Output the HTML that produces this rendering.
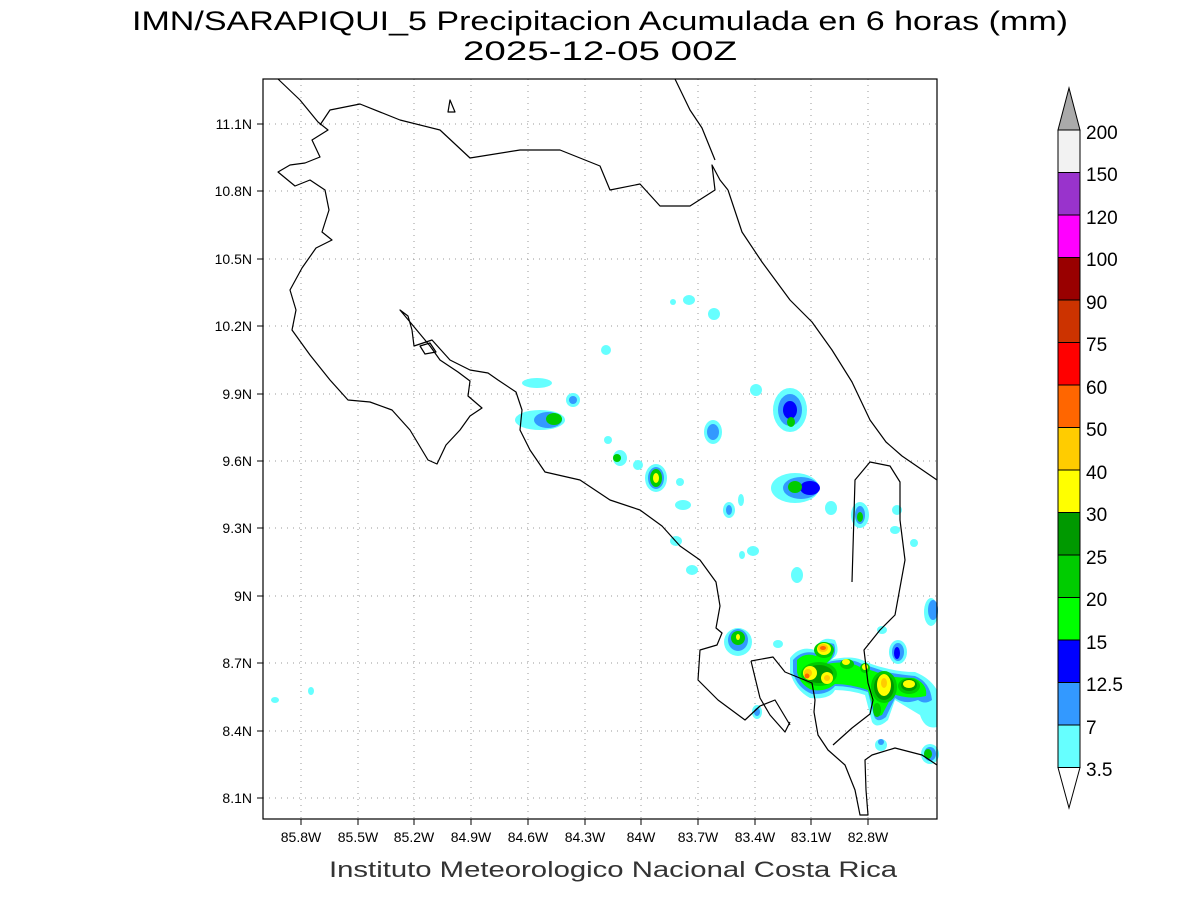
<!DOCTYPE html>
<html><head><meta charset="utf-8"><style>
html,body{margin:0;padding:0;background:#fff;}
svg{display:block;font-family:"Liberation Sans",sans-serif;}
</style></head><body>
<svg width="1200" height="900" viewBox="0 0 1200 900" xmlns="http://www.w3.org/2000/svg">
<rect width="1200" height="900" fill="#fff"/>
<text x="600" y="30" font-size="27" text-anchor="middle" fill="#000" textLength="936" lengthAdjust="spacingAndGlyphs">IMN/SARAPIQUI_5 Precipitacion Acumulada en 6 horas (mm)</text>
<text x="600" y="60" font-size="27" text-anchor="middle" fill="#000" textLength="274" lengthAdjust="spacingAndGlyphs">2025-12-05 00Z</text>
<g stroke="#999" stroke-width="1" stroke-dasharray="1,5">
<line x1="301" y1="79" x2="301" y2="819"/><line x1="358" y1="79" x2="358" y2="819"/><line x1="414" y1="79" x2="414" y2="819"/><line x1="471" y1="79" x2="471" y2="819"/><line x1="528" y1="79" x2="528" y2="819"/><line x1="585" y1="79" x2="585" y2="819"/><line x1="641" y1="79" x2="641" y2="819"/><line x1="698" y1="79" x2="698" y2="819"/><line x1="755" y1="79" x2="755" y2="819"/><line x1="811" y1="79" x2="811" y2="819"/><line x1="868" y1="79" x2="868" y2="819"/>
<line x1="263" y1="124" x2="937" y2="124"/><line x1="263" y1="191" x2="937" y2="191"/><line x1="263" y1="259" x2="937" y2="259"/><line x1="263" y1="326" x2="937" y2="326"/><line x1="263" y1="394" x2="937" y2="394"/><line x1="263" y1="461" x2="937" y2="461"/><line x1="263" y1="528" x2="937" y2="528"/><line x1="263" y1="596" x2="937" y2="596"/><line x1="263" y1="663" x2="937" y2="663"/><line x1="263" y1="731" x2="937" y2="731"/><line x1="263" y1="798" x2="937" y2="798"/>
</g>
<g>
<g fill="#66ffff">
<ellipse cx="540" cy="420" rx="25" ry="10"/><ellipse cx="537" cy="383" rx="15" ry="5"/><ellipse cx="573" cy="400" rx="7" ry="7"/><ellipse cx="620" cy="458" rx="7" ry="8"/><ellipse cx="638" cy="465" rx="5" ry="5"/><ellipse cx="656" cy="478" rx="11" ry="14"/><ellipse cx="608" cy="440" rx="4" ry="4"/><ellipse cx="680" cy="482" rx="4" ry="4"/><ellipse cx="683" cy="505" rx="8" ry="5"/><ellipse cx="676" cy="541" rx="6" ry="5"/><ellipse cx="692" cy="570" rx="6" ry="5"/><ellipse cx="713" cy="432" rx="9" ry="12"/><ellipse cx="729" cy="510" rx="6" ry="8"/><ellipse cx="741" cy="500" rx="3" ry="6"/><ellipse cx="753" cy="551" rx="6" ry="5"/><ellipse cx="742" cy="555" rx="3" ry="4"/><ellipse cx="756" cy="390" rx="6" ry="6"/><ellipse cx="790" cy="410" rx="17" ry="22"/><ellipse cx="795" cy="488" rx="24" ry="15"/><ellipse cx="831" cy="508" rx="6" ry="7"/><ellipse cx="860" cy="515" rx="9" ry="13"/><ellipse cx="897" cy="510" rx="5" ry="5"/><ellipse cx="895" cy="530" rx="5" ry="4"/><ellipse cx="914" cy="543" rx="4" ry="4"/><ellipse cx="797" cy="575" rx="6" ry="8"/><ellipse cx="689" cy="300" rx="6" ry="5"/><ellipse cx="714" cy="314" rx="6" ry="6"/><ellipse cx="606" cy="350" rx="5" ry="5"/><ellipse cx="673" cy="302" rx="3" ry="3"/><ellipse cx="738" cy="642" rx="14" ry="14"/><ellipse cx="757" cy="712" rx="5" ry="7"/><ellipse cx="778" cy="644" rx="5" ry="4"/><ellipse cx="931" cy="612" rx="7" ry="14"/><ellipse cx="881" cy="745" rx="6" ry="6"/><ellipse cx="930" cy="754" rx="9" ry="10"/><ellipse cx="882" cy="630" rx="5" ry="4"/><ellipse cx="311" cy="691" rx="3" ry="4"/><ellipse cx="275" cy="700" rx="4" ry="3"/><ellipse cx="898" cy="652" rx="9" ry="12"/>
<path d="M790 658 Q800 645 815 650 Q820 635 835 640 Q842 655 830 660 Q850 655 862 660 Q872 665 885 668 Q900 672 915 672 Q930 678 937 690 L937 727 Q925 730 920 715 Q905 706 895 700 L888 720 Q877 730 872 722 L865 695 Q850 690 835 690 Q830 700 810 698 Q795 690 790 672 Z"/>
</g>
<g fill="#3399ff">
<ellipse cx="548" cy="420" rx="14" ry="8"/><ellipse cx="573" cy="400" rx="4" ry="4"/><ellipse cx="656" cy="478" rx="8" ry="11"/><ellipse cx="713" cy="432" rx="6" ry="8"/><ellipse cx="790" cy="410" rx="12" ry="16"/><ellipse cx="801" cy="488" rx="18" ry="11"/><ellipse cx="860" cy="515" rx="5" ry="9"/><ellipse cx="738" cy="640" rx="10" ry="11"/><ellipse cx="930" cy="754" rx="6" ry="7"/><ellipse cx="933" cy="610" rx="5" ry="10"/><ellipse cx="729" cy="510" rx="3" ry="5"/><ellipse cx="757" cy="712" rx="3" ry="4"/><ellipse cx="881" cy="742" rx="3" ry="3"/><ellipse cx="898" cy="652" rx="6" ry="9"/>
<path d="M793 660 Q802 650 815 653 Q822 640 834 644 Q838 655 828 662 Q850 657 862 664 Q875 668 886 672 Q902 675 915 676 Q930 682 932 700 Q925 705 918 700 Q905 705 895 698 L886 717 Q877 724 874 716 L868 692 Q850 686 835 686 Q828 695 812 694 Q797 688 793 672 Z"/>
</g>
<g fill="#0000ff"><ellipse cx="790" cy="410" rx="7" ry="9"/><ellipse cx="810" cy="488" rx="10" ry="7"/><ellipse cx="897" cy="653" rx="3" ry="6"/></g>
<g fill="#00ff00">
<path d="M797 660 Q805 652 816 656 Q823 644 833 647 Q835 656 826 664 Q848 660 860 667 Q875 671 886 676 Q900 678 914 678 Q928 684 926 696 Q910 700 893 694 L882 715 Q876 718 874 710 L868 690 Q850 684 835 684 Q826 692 812 690 Q800 685 797 672 Z"/>
</g>
<g fill="#00cc00">
<ellipse cx="554" cy="419" rx="8" ry="6"/><ellipse cx="656" cy="478" rx="6" ry="9"/><ellipse cx="617" cy="458" rx="4" ry="4"/><ellipse cx="738" cy="638" rx="7" ry="7"/><ellipse cx="795" cy="487" rx="7" ry="6"/><ellipse cx="860" cy="517" rx="3" ry="5"/><ellipse cx="928" cy="754" rx="4" ry="5"/><ellipse cx="791" cy="422" rx="4" ry="5"/>
<ellipse cx="819" cy="674" rx="18" ry="12"/><ellipse cx="824" cy="650" rx="10" ry="8"/><ellipse cx="884" cy="687" rx="13" ry="16"/><ellipse cx="909" cy="686" rx="11" ry="8"/><ellipse cx="847" cy="664" rx="7" ry="5"/><ellipse cx="865" cy="668" rx="5" ry="5"/><ellipse cx="877" cy="710" rx="4" ry="7"/>
</g>
<g fill="#009900"><ellipse cx="819" cy="674" rx="14" ry="9"/><ellipse cx="884" cy="687" rx="10" ry="13"/><ellipse cx="909" cy="685" rx="8" ry="6"/></g>
<g fill="#ffff00"><ellipse cx="656" cy="478" rx="3" ry="5"/><ellipse cx="824" cy="649" rx="7" ry="6"/><ellipse cx="810" cy="673" rx="7" ry="7"/><ellipse cx="827" cy="678" rx="6" ry="6"/><ellipse cx="884" cy="685" rx="7" ry="11"/><ellipse cx="909" cy="684" rx="6" ry="4"/><ellipse cx="865" cy="667" rx="3" ry="3"/><ellipse cx="846" cy="662" rx="4" ry="3"/><ellipse cx="738" cy="637" rx="2" ry="3"/></g>
<g fill="#ffcc00"><ellipse cx="823" cy="648" rx="5" ry="4"/><ellipse cx="808" cy="673" rx="4" ry="4"/><ellipse cx="827" cy="678" rx="3" ry="3"/><ellipse cx="884" cy="683" rx="3" ry="5"/></g>
<g fill="#ff6600"><ellipse cx="823" cy="648" rx="3" ry="2"/><ellipse cx="807" cy="676" rx="2.5" ry="2.5"/></g>
</g>
<g fill="none" stroke="#000" stroke-width="1.2" stroke-linejoin="round">
<path d="M278 79 L300 100 L318 122 L328 130 L312 140 L320 157 L305 163 L290 165 L278 172 L295 186 L310 180 L325 190 L329 210 L322 232 L332 240 L316 248 L302 268 L290 290 L296 310 L292 330 L310 355 L330 380 L348 400 L370 402 L392 410 L410 430 L428 460 L437 464 L446 445 L460 430 L470 416 L482 408 L468 396 L470 381 L458 372 L440 360 L430 346 L420 334 L410 322 L400 310 L408 316 L412 330 L414 346 L432 340 L450 360 L470 370 L488 373 L498 380 L516 392 L522 410 L520 430 L530 450 L545 472 L580 480 L610 500 L640 510 L662 526 L680 546 L700 560 L716 582 L720 606 L716 628 L722 633 L717 645 L700 650 L698 680 L718 700 L745 720 L760 706 L775 700 L790 725"/>
<path d="M751 661 L773 657 L785 672 L812 683 L815 700 L814 712 L818 735 L828 750 L845 765 L855 790 L860 815 L868 815 L866 790 L865 760 L872 755 L895 748 L922 755 L937 765"/>
<path d="M751 661 L760 698 L770 715 L785 732 L790 722"/>
<path d="M833 745 L852 728 L870 714 L873 700 L868 683 L864 650 L880 630 L895 615 L905 560 L900 520 L900 482 L890 466 L870 462 L855 480 L852 582"/>
<path d="M320 125 L330 110 L360 104 L400 120 L440 130 L470 158 L520 150 L560 150 L600 166 L610 190 L640 184 L660 206 L690 206 L715 190 L712 165 L720 180 L728 190"/>
<path d="M675 79 L690 110 L702 128 L715 160"/>
<path d="M728 190 L742 232 L762 262 L790 300 L812 322 L832 350 L852 382 L870 420 L886 442 L902 456 L937 480"/>
<path d="M450 100 L455 112 L448 112 Z"/>
<path d="M420 346 L430 343 L436 352 L425 354 Z"/>
</g>
<rect x="263" y="79" width="674" height="740" fill="none" stroke="#000" stroke-width="1.2"/>
<g stroke="#000" stroke-width="1">
<line x1="301" y1="819" x2="301" y2="825"/><line x1="358" y1="819" x2="358" y2="825"/><line x1="414" y1="819" x2="414" y2="825"/><line x1="471" y1="819" x2="471" y2="825"/><line x1="528" y1="819" x2="528" y2="825"/><line x1="585" y1="819" x2="585" y2="825"/><line x1="641" y1="819" x2="641" y2="825"/><line x1="698" y1="819" x2="698" y2="825"/><line x1="755" y1="819" x2="755" y2="825"/><line x1="811" y1="819" x2="811" y2="825"/><line x1="868" y1="819" x2="868" y2="825"/>
<line x1="257" y1="124" x2="263" y2="124"/><line x1="257" y1="191" x2="263" y2="191"/><line x1="257" y1="259" x2="263" y2="259"/><line x1="257" y1="326" x2="263" y2="326"/><line x1="257" y1="394" x2="263" y2="394"/><line x1="257" y1="461" x2="263" y2="461"/><line x1="257" y1="528" x2="263" y2="528"/><line x1="257" y1="596" x2="263" y2="596"/><line x1="257" y1="663" x2="263" y2="663"/><line x1="257" y1="731" x2="263" y2="731"/><line x1="257" y1="798" x2="263" y2="798"/>
</g>
<g font-size="14" fill="#000" text-anchor="middle">
<text x="301" y="842">85.8W</text><text x="358" y="842">85.5W</text><text x="414" y="842">85.2W</text><text x="471" y="842">84.9W</text><text x="528" y="842">84.6W</text><text x="585" y="842">84.3W</text><text x="641" y="842">84W</text><text x="698" y="842">83.7W</text><text x="755" y="842">83.4W</text><text x="811" y="842">83.1W</text><text x="868" y="842">82.8W</text>
</g>
<g font-size="14" fill="#000" text-anchor="end">
<text x="252" y="129">11.1N</text><text x="252" y="196">10.8N</text><text x="252" y="264">10.5N</text><text x="252" y="331">10.2N</text><text x="252" y="399">9.9N</text><text x="252" y="466">9.6N</text><text x="252" y="533">9.3N</text><text x="252" y="601">9N</text><text x="252" y="668">8.7N</text><text x="252" y="736">8.4N</text><text x="252" y="803">8.1N</text>
</g>
<text x="613" y="877" font-size="22" text-anchor="middle" fill="#333" textLength="568" lengthAdjust="spacingAndGlyphs">Instituto Meteorologico Nacional Costa Rica</text>
<g stroke="#000" stroke-width="1">
<polygon points="1058,130 1080,130 1069,88" fill="#aaaaaa"/>
<rect x="1058" y="130" width="22" height="42.5" fill="#f2f2f2"/>
<rect x="1058" y="172.5" width="22" height="42.5" fill="#9933cc"/>
<rect x="1058" y="215" width="22" height="42.5" fill="#ff00ff"/>
<rect x="1058" y="257.5" width="22" height="42.5" fill="#990000"/>
<rect x="1058" y="300" width="22" height="42.5" fill="#cc3300"/>
<rect x="1058" y="342.5" width="22" height="42.5" fill="#ff0000"/>
<rect x="1058" y="385" width="22" height="42.5" fill="#ff6600"/>
<rect x="1058" y="427.5" width="22" height="42.5" fill="#ffcc00"/>
<rect x="1058" y="470" width="22" height="42.5" fill="#ffff00"/>
<rect x="1058" y="512.5" width="22" height="42.5" fill="#009900"/>
<rect x="1058" y="555" width="22" height="42.5" fill="#00cc00"/>
<rect x="1058" y="597.5" width="22" height="42.5" fill="#00ff00"/>
<rect x="1058" y="640" width="22" height="42.5" fill="#0000ff"/>
<rect x="1058" y="682.5" width="22" height="42.5" fill="#3399ff"/>
<rect x="1058" y="725" width="22" height="42.5" fill="#66ffff"/>
<polygon points="1058,767.5 1080,767.5 1069,808" fill="#fff"/>
</g>
<g font-size="19" fill="#000">
<text x="1086" y="139">200</text><text x="1086" y="181">150</text><text x="1086" y="224">120</text><text x="1086" y="266">100</text><text x="1086" y="309">90</text><text x="1086" y="351">75</text><text x="1086" y="394">60</text><text x="1086" y="436">50</text><text x="1086" y="479">40</text><text x="1086" y="521">30</text><text x="1086" y="564">25</text><text x="1086" y="606">20</text><text x="1086" y="649">15</text><text x="1086" y="691">12.5</text><text x="1086" y="734">7</text><text x="1086" y="776">3.5</text>
</g>
</svg>
</body></html>
